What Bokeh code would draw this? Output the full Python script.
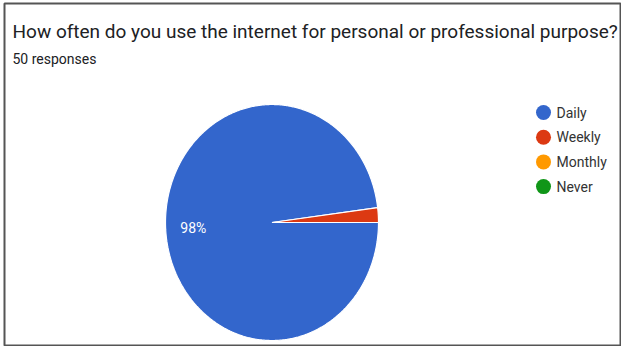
import numpy as np
from bokeh.plotting import figure
from bokeh.models import Range1d
from bokeh.core.properties import value
from bokeh.embed import file_html
from bokeh.resources import INLINE

# ---- data ----
title_text = "How often do you use the internet for personal or professional purpose?"
subtitle_text = "50 responses"
categories = ["Daily", "Weekly", "Monthly", "Never"]
counts = [49, 1, 0, 0]
colors = ["#3366cc", "#dc3912", "#ff9900", "#109618"]

# ---- layout ----
W, H = 621, 346
ML, MT, MB, MR = 4, 3, 1, 0
p = figure(width=W, height=H, output_backend="svg", toolbar_location=None,
           x_range=Range1d(ML, W - MR), y_range=Range1d(H - MB, MT),
           min_border_left=ML, min_border_top=MT, min_border_bottom=MB,
           min_border_right=MR, x_axis_location=None, y_axis_location=None)
p.grid.visible = False
p.outline_line_color = "#555555"
p.outline_line_width = 2
p.background_fill_color = "white"
p.border_fill_color = "white"

FONT = "Roboto"

# pie geometry (elliptical as in the reference)
cx, cy, rx, ry = 271.5, 222.0, 106.5, 118.0
start_deg = 0.0

total = float(sum(counts))
fr = np.array(counts, dtype=float) / total
cum = np.concatenate([[0.0], np.cumsum(fr)])

xs, ys, cols = [], [], []
lab_x, lab_y, lab_t = [], [], []
for i in range(len(categories)):
    if fr[i] <= 0:
        continue
    a0 = np.radians(start_deg - cum[i] * 360.0)
    a1 = np.radians(start_deg - cum[i + 1] * 360.0)
    n = max(int(abs(a1 - a0) / np.radians(0.5)) + 2, 3)
    t = np.linspace(a0, a1, n)
    xs.append(np.concatenate([[cx], cx + rx * np.cos(t)]).tolist())
    ys.append(np.concatenate([[cy], cy - ry * np.sin(t)]).tolist())
    cols.append(colors[i])
    if fr[i] >= 0.05:
        m = (a0 + a1) / 2.0
        lab_x.append(cx + 0.74 * rx * np.cos(m))
        lab_y.append(cy - 0.74 * ry * np.sin(m))
        lab_t.append(f"{round(fr[i] * 100)}%")

p.patches(xs, ys, fill_color=cols, line_color="white", line_width=1.2)

p.text(x=lab_x, y=lab_y, text=lab_t, text_color="white",
       text_font=value(FONT), text_font_size="14px",
       text_align="center", text_baseline="middle")

# title + subtitle
p.text(x=[12], y=[31], text=[title_text], text_color="#202124",
       text_font=value(FONT), text_font_size="19px",
       text_align="left", text_baseline="alphabetic")
p.text(x=[12], y=[58], text=[subtitle_text], text_color="#202124",
       text_font=value(FONT), text_font_size="14px",
       text_align="left", text_baseline="alphabetic")

# legend
leg_y = [112 + 24.7 * i for i in range(len(categories))]
p.scatter(x=[543] * len(categories), y=leg_y, size=15, marker="circle",
          fill_color=colors, line_color=None)
p.text(x=[556] * len(categories), y=leg_y, text=categories, text_color="#333333",
       text_font=value(FONT), text_font_size="14px",
       text_align="left", text_baseline="middle")

open("out.html", "w").write(file_html(p, INLINE))
